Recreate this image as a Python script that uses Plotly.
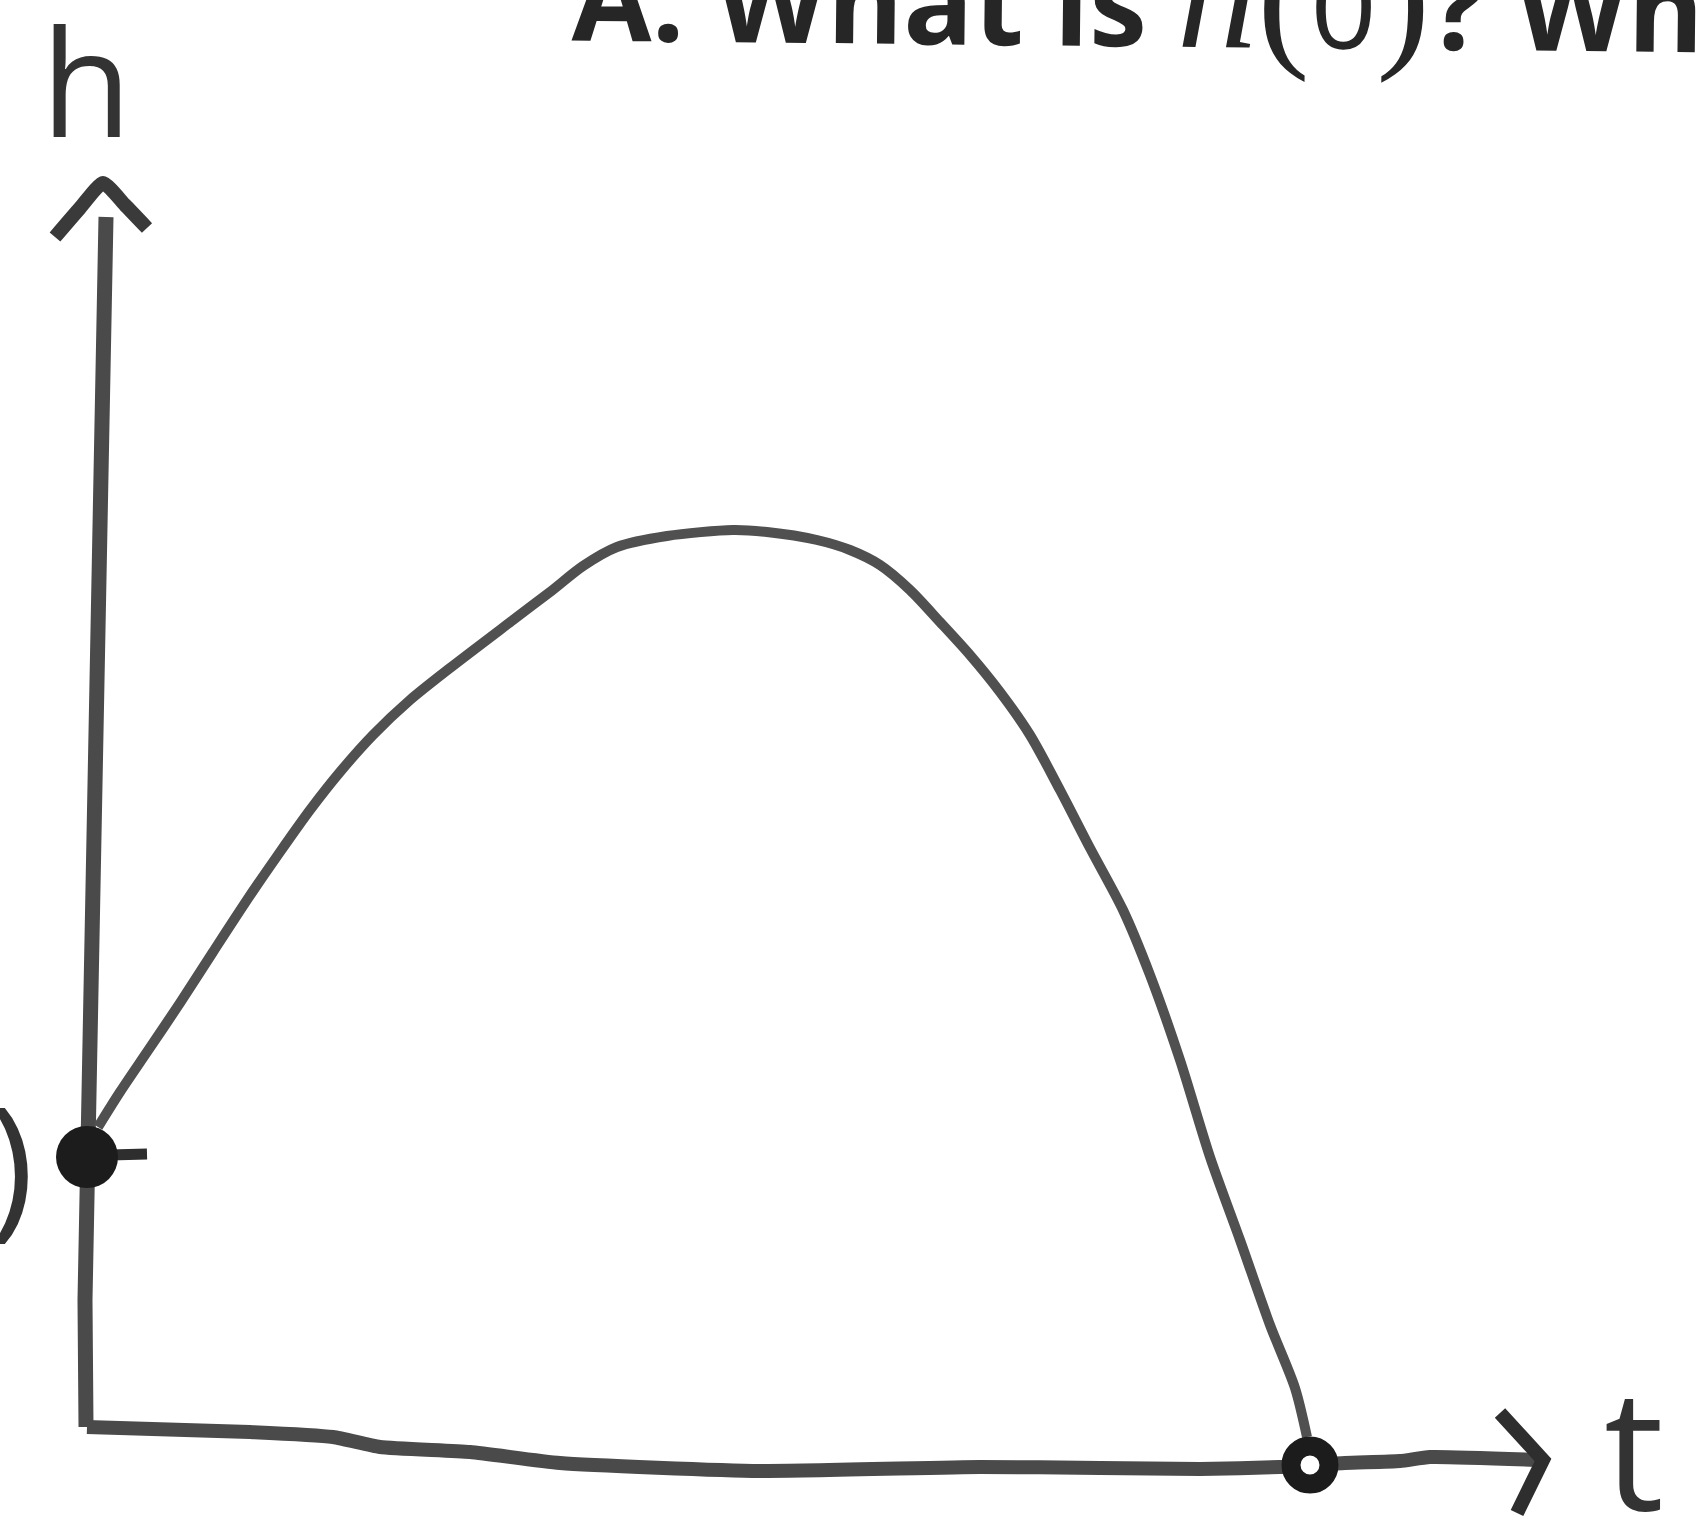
import plotly.graph_objects as go

# Sketch of a projectile's height h against time t (units: sketch px from origin)
curve_t = [11, 33, 60, 93, 126, 158, 193, 223, 253, 286, 323, 363, 426, 463, 496, 530,
           580, 646, 680, 730, 763, 793, 823, 853, 883, 913, 943, 973, 1003, 1036,
           1063, 1093, 1123, 1153, 1183, 1208, 1220]
curve_h = [300, 335, 375, 424, 475, 524, 575, 617, 655, 692, 727, 759, 807, 835, 861, 880,
           891, 897, 895, 887, 877, 862, 837, 805, 772, 735, 692, 637, 579, 517,
           452, 367, 270, 187, 102, 39, -10]

# Hand-drawn vertical (h) axis stroke
haxis_t = [19, 9, 2, 0, -2, -1]
haxis_h = [1210, 667, 309, 270, 127, 0]

# Hand-drawn horizontal (t) axis stroke
taxis_t = [0, 163, 246, 293, 383, 473, 673, 893, 1013, 1113, 1193, 1258, 1313, 1343, 1450]
taxis_h = [0, -5, -10, -20, -25, -36, -44, -40, -41, -42, -40, -36, -34, -30, -33]

# Arrowheads at the ends of the axes
up_arrow_t = [-32, -7, 16, 38, 60]
up_arrow_h = [1190, 1219, 1244, 1222, 1199]
right_arrow_t = [1413, 1456, 1430]
right_arrow_h = [14, -33, -86]

# Starting height h(0) and landing time
start_t, start_h = 0, 270
start_tick_t = [23, 60]
start_tick_h = [272, 273]
land_t, land_h = 1223, -38

ink = "#4a4a4a"
dark = "#1c1c1c"

fig = go.Figure()


def stroke(xs, ys, width, color=ink, shape="linear", smoothing=0.6):
    fig.add_trace(go.Scatter(x=xs, y=ys, mode="lines",
                             line=dict(color=color, width=width, shape=shape, smoothing=smoothing),
                             cliponaxis=False, hoverinfo="skip"))


stroke(haxis_t, haxis_h, 15)
stroke(taxis_t, taxis_h, 14, shape="spline", smoothing=0.5)
stroke(up_arrow_t, up_arrow_h, 14, color="#3a3a3a", shape="spline", smoothing=0.5)
stroke(right_arrow_t, right_arrow_h, 14, color="#2e2e2e")
stroke(curve_t, curve_h, 10, color="#505050", shape="spline", smoothing=0.8)
stroke(start_tick_t, start_tick_h, 11, color="#2e2e2e")

# Filled dot at the launch height
fig.add_trace(go.Scatter(x=[start_t], y=[start_h], mode="markers",
                         marker=dict(size=62, color=dark, line=dict(width=0)),
                         cliponaxis=False, hoverinfo="skip"))
# Open dot where the projectile lands
fig.add_trace(go.Scatter(x=[land_t], y=[land_h], mode="markers",
                         marker=dict(size=38, color="white", line=dict(width=19, color=dark)),
                         cliponaxis=False, hoverinfo="skip"))

W, H = 1702, 1534
X0, Y0 = 87, 1427  # origin position on the page

fig.update_layout(
    width=W, height=H,
    margin=dict(l=0, r=0, t=0, b=0),
    paper_bgcolor="white", plot_bgcolor="white",
    showlegend=False,
    xaxis=dict(visible=False, range=[-X0, W - X0], fixedrange=True),
    yaxis=dict(visible=False, range=[-(H - Y0), Y0], fixedrange=True),
)

# Question heading across the top
serif = "font-family:Liberation Serif;font-weight:500;font-size:160px"
heading = ('A. What is '
           f'<span style="{serif}"><i>h</i>(</span>'
           '<span style="font-weight:500">0</span>'
           f'<span style="{serif}">)</span>'
           '? What')
fig.add_annotation(
    text=heading,
    xref="paper", yref="paper", x=569 / W, y=1 + 7.5 / H,
    xanchor="left", yanchor="middle", showarrow=False, textangle=0.6,
    font=dict(family="Open Sans", size=116, color="#262626", weight="bold"),
)

hand = dict(family="Open Sans", color="#333333")
# Axis labels
fig.add_annotation(text="h", xref="paper", yref="paper", x=86 / W, y=1 - 80 / H,
                   xanchor="center", yanchor="middle", showarrow=False,
                   font=dict(size=148, **hand))
fig.add_annotation(text="t", xref="paper", yref="paper", x=1634 / W, y=1 - 1444 / H,
                   xanchor="center", yanchor="middle", showarrow=False,
                   font=dict(size=168, **hand))
# Launch-height label at the left edge
fig.add_annotation(text="h(0)", xref="paper", yref="paper", x=36 / W, y=1 - 1158 / H,
                   xanchor="right", yanchor="middle", showarrow=False,
                   font=dict(size=156, **hand))

fig.write_html("out.html")
